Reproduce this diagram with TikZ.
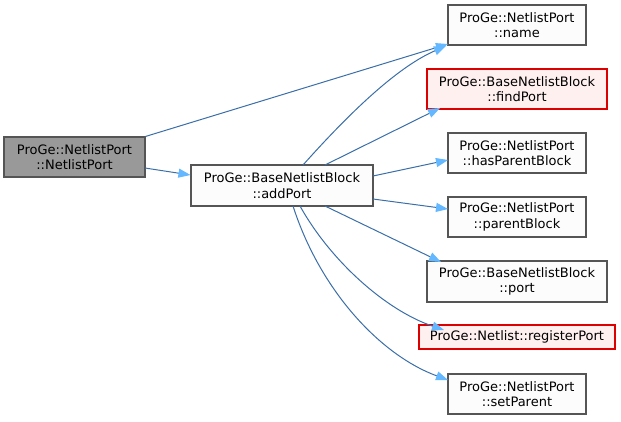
\documentclass[tikz,border=0pt]{standalone}
\usepackage{fontspec}
\setmainfont{DejaVu Sans}
\usetikzlibrary{arrows.meta}
\definecolor{edgec}{HTML}{3A6EA8}
\definecolor{arrowc}{HTML}{63B8FF}
\definecolor{bordc}{HTML}{555555}
\definecolor{rootc}{HTML}{999999}
\definecolor{redfill}{HTML}{FFF0F0}
\definecolor{redbord}{HTML}{DD0000}
\definecolor{nodefill}{HTML}{FBFCFB}
\tikzset{
  fn/.style={draw=bordc, fill=nodefill, line width=1.1pt, align=center, inner sep=0pt,
    font=\fontsize{13}{15.5}\selectfont, text=black},
  rootn/.style={fn, fill=rootc, draw=bordc},
  redn/.style={fn, fill=redfill, draw=redbord},
  call/.style={draw=edgec, line width=1pt, -{Triangle[length=12pt,width=9pt,fill=arrowc,color=arrowc]}},
}
\begin{document}
\begin{tikzpicture}[x=1pt,y=-1pt]
\useasboundingbox (0,0) rectangle (621,421);
\node[rootn, minimum width=141, minimum height=40] (np) at (74.5,157) {ProGe::NetlistPort\\::NetlistPort};
\node[fn, minimum width=182, minimum height=41] (ap) at (282,185.5) {ProGe::BaseNetlistBlock\\::addPort};
\node[fn, minimum width=138, minimum height=40] (nm) at (517,25) {ProGe::NetlistPort\\::name};
\node[redn, minimum width=180, minimum height=40] (fp) at (517,89) {ProGe::BaseNetlistBlock\\::findPort};
\node[fn, minimum width=138, minimum height=40] (hp) at (517,153) {ProGe::NetlistPort\\::hasParentBlock};
\node[fn, minimum width=138, minimum height=40] (pb) at (517,217) {ProGe::NetlistPort\\::parentBlock};
\node[fn, minimum width=180, minimum height=41] (po) at (517,281.5) {ProGe::BaseNetlistBlock\\::port};
\node[redn, minimum width=196, minimum height=24] (rp) at (517,337) {ProGe::Netlist::registerPort};
\node[fn, minimum width=138, minimum height=40] (sp) at (517,394) {ProGe::NetlistPort\\::setParent};

\draw[call] (np.north east) -- (448,44);
\draw[call] (145,168) -- (ap.west |- 0,175);
\draw[call] (303,165) .. controls (345,118) and (395,68) .. (446,46);
\draw[call] (325,165) -- (440,108);
\draw[call] (373,176) -- (448,160);
\draw[call] (373,199) -- (448,209);
\draw[call] (325,206) -- (441,262);
\draw[call] (300,206) .. controls (330,260) and (385,310) .. (444,330);
\draw[call] (293,206) .. controls (320,290) and (380,355) .. (448,380);
\end{tikzpicture}
\end{document}
